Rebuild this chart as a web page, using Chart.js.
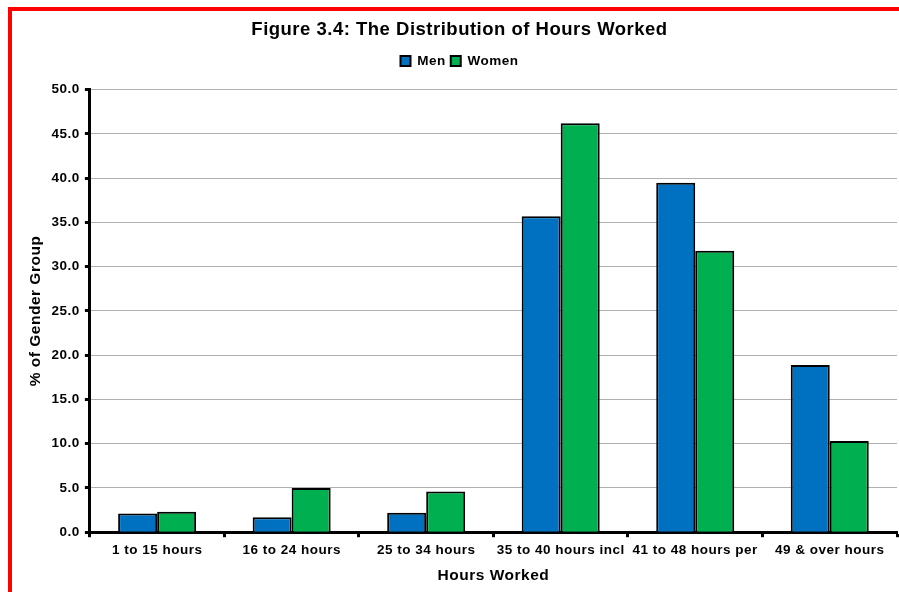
<!DOCTYPE html>
<html>
<head>
<meta charset="utf-8">
<script src="https://cdn.jsdelivr.net/npm/chart.js@4"></script>
<style>
  html, body { margin: 0; padding: 0; background: #fff; overflow: hidden; }
  #frame {
    position: absolute; left: 8px; top: 7px;
    width: 910px; height: 600px;
    border: 4px solid #ff0000; pointer-events: none;
  }
  #wrap { position: absolute; left: 12px; top: 11px; width: 896px; height: 581px; }
</style>
</head>
<body>
<div id="wrap"><canvas id="chart"></canvas></div>
<div id="frame"></div>
<script>
// --- Donnees ---
const categories = ['1 to 15 hours', '16 to 24 hours', '25 to 34 hours', '35 to 40 hours incl', '41 to 48 hours per', '49 & over hours'];
const menValues = [2.1, 1.7, 2.2, 35.7, 39.5, 18.9];
const womenValues = [2.3, 5.0, 4.6, 46.2, 31.8, 10.3];

const boldFont = size => ({ family: 'Liberation Sans, Arial, sans-serif', weight: 'bold', size });

// texte un peu plus large, comme dans Excel
const spacingPlugin = {
  id: 'spacing',
  beforeLayout(chart) { chart.ctx.letterSpacing = '0.5px'; },
  beforeDraw(chart) { chart.ctx.letterSpacing = '0.5px'; }
};

// un peu d'espace sous la legende
const legendGap = {
  id: 'legendGap',
  beforeInit(chart) {
    const origFit = chart.legend.fit;
    chart.legend.fit = function () {
      origFit.bind(chart.legend)();
      this.height += 12;
    };
  }
};

const ctx = document.getElementById('chart').getContext('2d');
new Chart(ctx, {
  type: 'bar',
  data: {
    labels: categories,
    datasets: [
      { label: 'Men', data: menValues, backgroundColor: '#0070c0', borderColor: '#000', borderWidth: 2 },
      { label: 'Women', data: womenValues, backgroundColor: '#00b050', borderColor: '#000', borderWidth: 2 }
    ]
  },
  plugins: [spacingPlugin, legendGap],
  options: {
    responsive: true,
    maintainAspectRatio: false,
    animation: false,
    layout: { padding: { left: 10, right: 11, top: 4, bottom: 3 } },
    datasets: { bar: { barPercentage: 1.0, categoryPercentage: 0.58 } },
    plugins: {
      title: {
        display: true,
        text: 'Figure 3.4: The Distribution of Hours Worked',
        color: '#000',
        font: boldFont(18.5),
        padding: { top: 4, bottom: 8 }
      },
      legend: {
        labels: {
          color: '#000',
          font: boldFont(13.5),
          boxWidth: 10,
          boxHeight: 10,
          padding: 5
        }
      },
      tooltip: { enabled: false }
    },
    scales: {
      x: {
        grid: { display: true, drawOnChartArea: false, offset: true, tickLength: 5, tickColor: '#000', tickWidth: 3 },
        border: { color: '#000', width: 3 },
        ticks: { color: '#000', font: boldFont(13.5), maxRotation: 0, autoSkip: false, padding: 5 },
        title: { display: true, text: 'Hours Worked', color: '#000', font: boldFont(15.5), padding: { top: 3 } }
      },
      y: {
        min: 0,
        max: 50,
        ticks: { stepSize: 5, color: '#000', font: boldFont(13.5), padding: 5, callback: v => v.toFixed(1) },
        grid: { color: '#b0b0b0', lineWidth: 1, tickLength: 5, tickColor: '#000', tickWidth: 3 },
        border: { color: '#000', width: 3 },
        title: { display: true, text: '% of Gender Group', color: '#000', font: boldFont(15.5), padding: { bottom: 2 } }
      }
    }
  }
});
</script>
</body>
</html>
